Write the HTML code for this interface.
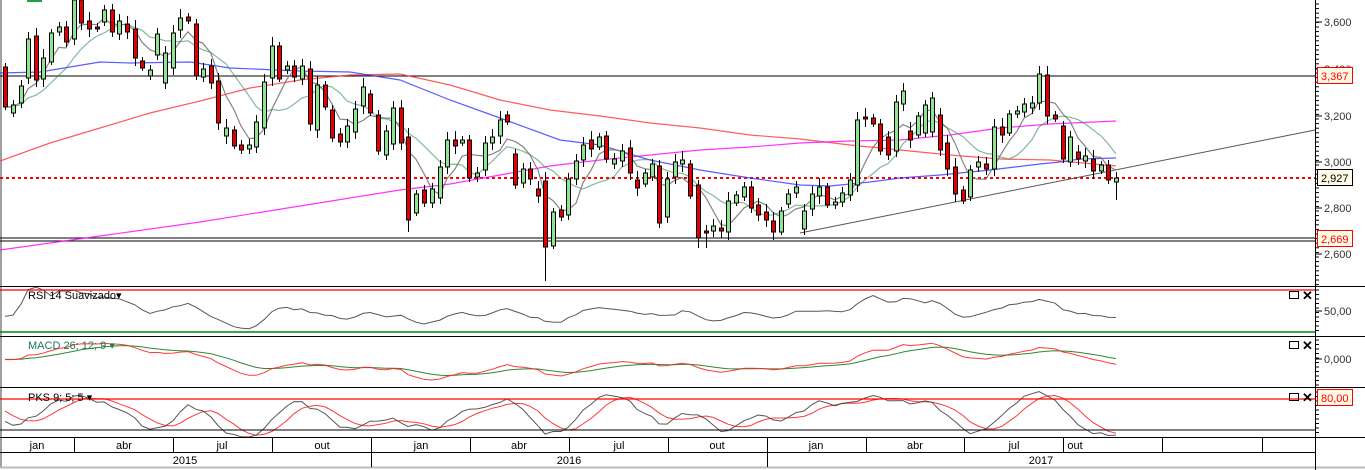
<!DOCTYPE html>
<html><head><meta charset="utf-8"><style>
html,body{margin:0;padding:0;background:#fff;}
svg{display:block;font-family:"Liberation Sans",sans-serif;}
</style></head><body>
<svg id="s" width="1365" height="470" xmlns="http://www.w3.org/2000/svg">
<rect width="1365" height="470" fill="#fff"/>
<rect x="0" y="0" width="2" height="467" fill="#a0a0a0"/>
<rect x="27" y="0" width="15" height="2" fill="#22a045"/>
<g id="grid"></g>
</svg>
<script>
var S=document.getElementById('s'),NS='http://www.w3.org/2000/svg';
function el(t,a,txt){var e=document.createElementNS(NS,t);for(var k in a)e.setAttribute(k,a[k]);if(txt!=null)e.textContent=txt;S.appendChild(e);return e;}
function line(x1,y1,x2,y2,c,w,d){var a={x1:x1,y1:y1,x2:x2,y2:y2,stroke:c,'stroke-width':w||1};if(d)a['stroke-dasharray']=d;return el('line',a);}
function poly(pts,c,w,op){return el('polyline',{points:pts.map(function(p){return p[0]+','+p[1].toFixed(1)}).join(' '),fill:'none',stroke:c,'stroke-width':w||1,'stroke-opacity':op||1});}
var D="5,67,107,r|13,105,113,g|21,86,103,g|28,39,78,g|36,36,80,r|43,58,79,g|51,33,62,g|59,27,32,g|66,27,42,r|74,0,39,g|81,0,23,r|89,21,29,r|97,27,29,r|104,10,22,g|112,10,32,r|119,21,34,g|127,24,32,r|135,29,58,r|142,61,68,r|150,70,76,g|157,34,55,g|165,53,83,g|173,33,68,g|180,18,30,g|188,17,21,r|196,24,76,r|203,69,77,g|211,66,83,r|218,81,123,r|226,128,136,g|234,130,146,r|241,145,150,r|249,145,149,g|256,122,147,g|264,82,128,g|272,46,78,g|279,46,79,r|287,66,70,g|294,66,77,r|302,66,79,g|310,69,124,r|317,85,130,g|325,85,107,r|332,110,138,r|340,134,142,r|347,126,142,g|355,109,132,g|363,87,106,g|370,94,113,r|378,115,151,r|386,131,155,g|393,108,144,g|401,108,143,r|408,137,220,r|416,194,213,g|424,190,203,r|432,189,203,g|440,167,198,g|447,140,167,g|455,140,146,r|462,140,143,g|469,140,178,r|477,173,177,g|485,143,170,g|492,137,143,g|500,120,136,g|507,115,122,r|515,154,185,r|523,169,183,g|530,169,179,r|538,189,196,r|545,181,247,r|553,212,246,g|561,210,217,r|568,179,215,g|576,161,179,g|583,145,160,g|591,140,149,r|599,137,147,g|606,136,159,r|614,159,164,g|622,151,161,g|630,148,173,r|637,180,188,r|645,173,184,g|652,164,177,g|659,166,223,r|667,179,217,g|675,162,177,g|682,160,164,g|690,164,196,r|698,185,238,r|706,231,233,r|713,226,231,g|721,228,231,r|728,201,232,g|736,195,203,g|744,187,197,g|751,187,208,r|758,205,215,r|766,212,220,r|773,221,232,r|781,211,232,g|788,194,204,g|796,187,193,g|804,211,229,g|812,194,209,g|819,187,196,g|827,187,205,r|835,202,205,g|842,193,202,g|850,180,195,g|857,120,185,g|865,117,119,r|873,118,124,r|880,124,151,r|888,137,155,r|896,102,151,g|903,91,104,g|910,131,140,r|918,116,135,g|925,105,133,g|932,98,132,g|940,115,150,r|947,143,169,r|955,167,194,r|963,190,201,r|970,170,197,g|978,162,167,g|986,164,169,r|994,127,169,g|1002,127,135,r|1009,114,133,g|1017,111,114,g|1024,104,112,g|1032,103,108,g|1039,74,103,g|1047,75,116,r|1055,115,119,r|1063,126,159,r|1070,137,162,g|1078,152,159,r|1085,156,161,g|1093,159,171,r|1101,165,171,g|1108,165,180,r|1116,178,182,g";
var C=D.split('|').map(function(s){var a=s.split(',');return {x:+a[0],t:+a[1],b:+a[2],c:a[3]};});
var special={545:281,408:232,698:248,1116:200,706:248,1039:69,1047:69,501:80,1063:162,880:150};
// horizontal levels
line(0,76,1315,76,'#000',1);
line(0,238,1315,238,'#000',1);line(0,241,1315,241,'#000',1);
line(0,178,1315,178,'#f00',2,'3,3');
line(800,233,1315,130,'#555',1);
// MAs hand-drawn
var blue=[[0,73],[40,72],[100,62],[130,63],[190,62],[230,68],[300,71],[350,72],[400,80],[450,100],[500,118],[560,140],[600,145],[650,160],[700,170],[750,178],[800,185],[830,186],[850,184],[870,182],[900,178],[940,175],[990,170],[1040,164],[1060,162],[1080,159],[1116,158]];
var red=[[0,161],[50,143],[100,128],[150,113],[200,101],[250,88],[300,80],[350,75],[400,74],[450,85],[500,100],[550,110],[600,116],[650,123],[700,128],[750,135],[800,139],[850,145],[900,150],[950,155],[1000,159],[1050,160],[1116,166]];
var mag=[[0,250],[50,243],[100,236],[200,222],[300,206],[400,190],[450,184],[500,175],[550,166],[600,160],[650,155],[700,150],[750,147],[800,143],[850,141],[900,140],[950,135],[1000,128],[1050,124],[1116,121]];
poly(red,'#f33',1.2,0.8);poly(mag,'#f0f',1.2,0.8);poly(blue,'#33f',1.2,0.8);
var cl=C.map(function(c){return c.c=='g'?c.t:c.b;});
function sma(arr,n){return arr.map(function(v,i){var s=0,k=0;for(var j=Math.max(0,i-n+1);j<=i;j++){s+=arr[j];k++;}while(k<n){s+=arr[0];k++;}return s/n;});}
var g5=sma(cl,5),g10=sma(cl,10);
poly(C.map(function(c,i){return [c.x,g5[i]]}),'#777',1.2,0.9);
poly(C.map(function(c,i){return [c.x,g10[i]]}),'#2e8b57',1.2,0.6);
// candles
C.forEach(function(c,i){var w=4+((i*37)%6);var hi=c.t-w,lo=c.b+w-1;if(special[c.x])lo=Math.max(lo,special[c.x]);
line(c.x+0.5,hi,c.x+0.5,lo,'#000',1);
el('rect',{x:c.x-1.5,y:c.t,width:4,height:Math.max(2,c.b-c.t),fill:c.c=='g'?'#8fe48f':'#e00000',stroke:'#000','stroke-width':1});});
// indicators
function P(y){return 3000+(162-y)/0.23;}
var pc=[],ph=[],pl=[];for(var k=0;k<30;k++){var v=P(cl[0])+Math.sin(k/3)*40;pc.push(v);ph.push(v+30);pl.push(v-30);}
C.forEach(function(c,i){var w=4+((i*37)%6);pc.push(P(cl[i]));ph.push(P(c.t-w));pl.push(P(c.b+w));});
var N=pc.length,off=30;
// RSI
var ag=0,al=0,rsi=[];for(var i=1;i<N;i++){var d=pc[i]-pc[i-1];var g=d>0?d:0,l=d<0?-d:0;ag=(ag*13+g)/14;al=(al*13+l)/14;rsi[i]=al==0?50:100-100/(1+ag/al);}rsi[0]=50;
var rs=sma(rsi,3);
poly(C.map(function(c,i){return [c.x,311-(rs[i+off]-50)*1.05]}),'#444',1,0.9);
// MACD
function ema(a,n){var k=2/(n+1),o=[a[0]];for(var i=1;i<a.length;i++)o.push(a[i]*k+o[i-1]*(1-k));return o;}
var e12=ema(pc,12),e26=ema(pc,26),m=pc.map(function(v,i){return e12[i]-e26[i]}),sg=ema(m,9);
var mx=0;for(var i=off;i<N;i++)mx=Math.max(mx,Math.abs(m[i]));var kk=20/mx;
poly(C.map(function(c,i){return [c.x,360-sg[i+off]*kk]}),'#1a7a1a',1,0.9);
poly(C.map(function(c,i){return [c.x,360-m[i+off]*kk]}),'#f22',1,0.9);
// Stoch
var raw=[];for(var i=0;i<N;i++){var h=-1e9,lw=1e9;for(var j=Math.max(0,i-8);j<=i;j++){h=Math.max(h,ph[j]);lw=Math.min(lw,pl[j]);}raw.push(h==lw?50:(pc[i]-lw)/(h-lw)*100);}
var sk=sma(raw,5),sd=sma(sk,5);
function sy(v){return 430-(v-20)*0.517;}
poly(C.map(function(c,i){return [c.x,sd[i+off]<0?0:sy(sd[i+off])]}),'#f22',1,0.9);
poly(C.map(function(c,i){return [c.x,sy(sk[i+off])]}),'#444',1,0.9);
// panel lines
line(0,286.5,1365,286.5,'#000',1);
line(0,290,1315,290,'#f00',1.3);
line(0,332,1315,332,'#080',1.5);
line(0,336.5,1365,336.5,'#000',1);
line(0,387.5,1365,387.5,'#000',1);
line(0,399,1315,399,'#f00',1.3);
line(0,430,1315,430,'#000',1);
line(0,437.5,1365,437.5,'#000',1);
line(0,452.5,1315,452.5,'#000',1);
line(0,467.5,1365,467.5,'#bbb',2);
// right axis
line(1315.5,0,1315.5,470,'#000',1);
for(var y=4;y<286;y+=4.6)line(1315,y,1319,y,'#000',1);
for(var y=290;y<335;y+=4.5)line(1315,y,1319,y,'#000',1);
for(var y=340;y<386;y+=4.5)line(1315,y,1319,y,'#000',1);
for(var y=392;y<437;y+=4.5)line(1315,y,1319,y,'#000',1);
[[22,'3,600'],[69,'3,400'],[116,'3,200'],[162,'3,000'],[208,'2,800'],[254,'2,600'],[311,'50,00'],[359,'0,000']].forEach(function(t){line(1315,t[0],1322,t[0],'#000',1);el('text',{x:1324,y:t[0]+4,'font-size':11,fill:'#333'},t[1]);});
function box(y,txt,bc,tc){el('rect',{x:1317.5,y:y-8.5,width:35,height:16,fill:'#fffbe6',stroke:bc,'stroke-width':1});el('text',{x:1321,y:y+4,'font-size':11,fill:tc},txt);}
box(76,'3,367','#f00','#f00');box(178,'2,927','#000','#000');box(239,'2,669','#f00','#f00');box(398,'80,00','#f00','#f00');
// panel titles
el('text',{x:28,y:299,'font-size':11,fill:'#000'},'RSI 14 Suavizado\u25BE');
el('text',{x:28,y:349,'font-size':11,fill:'#1a7a5a'},'MACD 26; 12; 9 \u25BE');
el('text',{x:28,y:401,'font-size':11,fill:'#000'},'PKS 9; 5; 5 \u25BE');
[291,341,393].forEach(function(y){el('rect',{x:1289.5,y:y+0.5,width:9,height:7,fill:'none',stroke:'#000','stroke-width':1});el('text',{x:1302,y:y+9,'font-size':13,'font-weight':'bold',fill:'#000'},'\u2715');});
// dates
[74,173,272,371,470,569,668,767,866,964,1063,1162,1262].forEach(function(x){line(x+0.5,437,x+0.5,452,'#000',1);});
[371,767].forEach(function(x){line(x+0.5,452,x+0.5,467,'#000',1);});
[[37,'jan'],[124,'abr'],[222,'jul'],[322,'out'],[421,'jan'],[519,'abr'],[619,'jul'],[717,'out'],[816,'jan'],[915,'abr'],[1014,'jul'],[1075,'out']].forEach(function(t){el('text',{x:t[0],y:449,'font-size':11,'text-anchor':'middle',fill:'#000'},t[1]);});
[[185,'2015'],[569,'2016'],[1041,'2017']].forEach(function(t){el('text',{x:t[0],y:464,'font-size':11,'text-anchor':'middle',fill:'#000'},t[1]);});
</script>
</body></html>
